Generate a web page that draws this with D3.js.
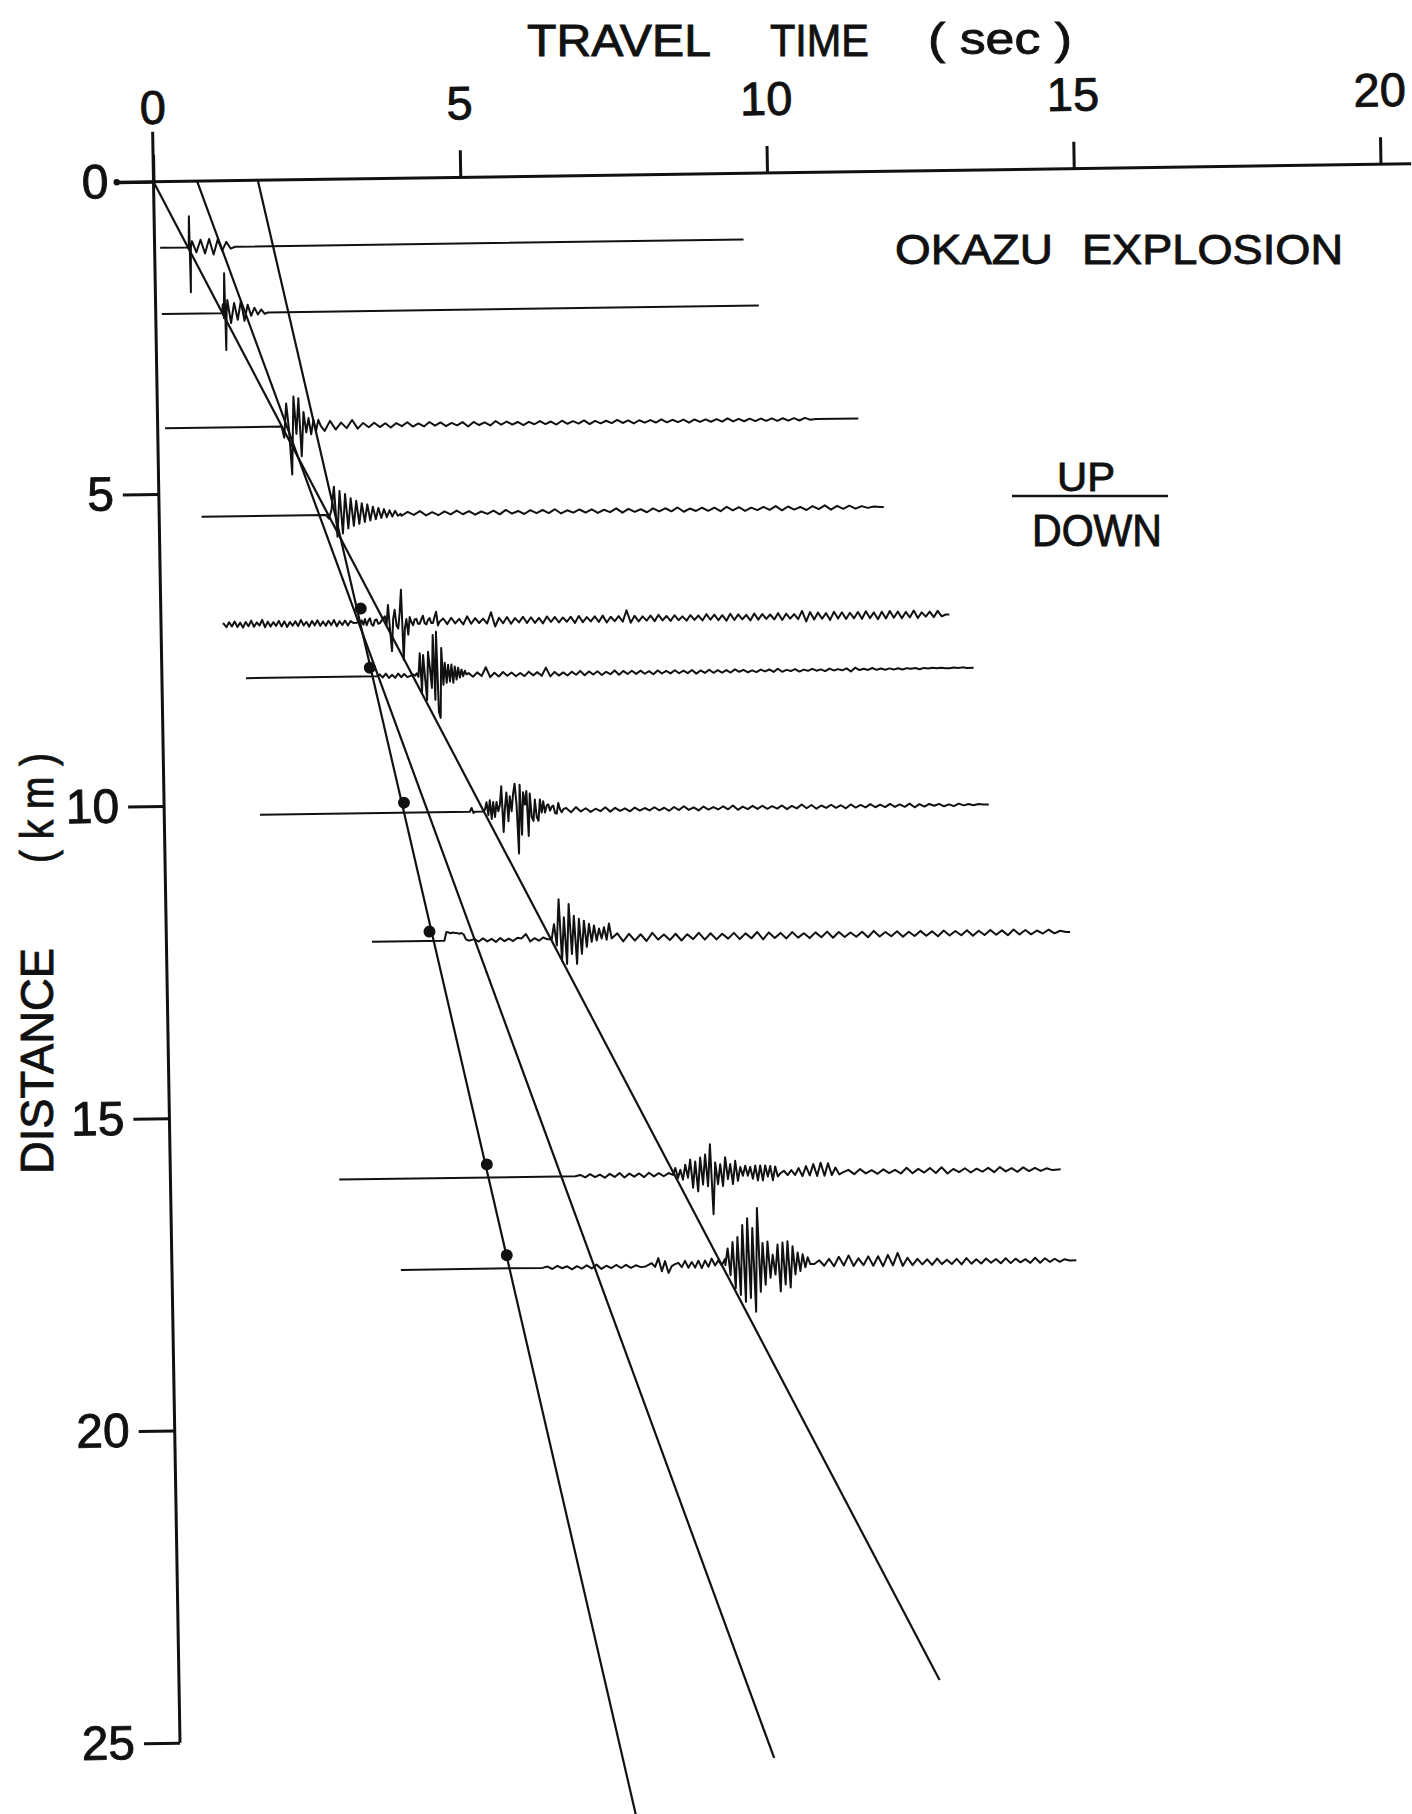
<!DOCTYPE html>
<html>
<head>
<meta charset="utf-8">
<script src="https://cdn.jsdelivr.net/npm/d3@7"></script>
<style>
  html, body { margin: 0; padding: 0; background: #ffffff; }
  svg { display: block; }
  text { font-family: "Liberation Sans", Arial, sans-serif; fill: #111; stroke: #111; stroke-width: 0.9px; }
</style>
</head>
<body>
<svg id="chart" width="1412" height="1814"></svg>
<script>
// ---- axes ----
const timeTicks = [0, 5, 10, 15, 20];          // travel time (sec)
const distTicks = [0, 5, 10, 15, 20, 25];      // distance (km)

// ---- travel-time branches: t = intercept + d / velocity ----
const branchIntercept = [0, 0.71, 1.7];        // sec
const branchVelocity  = [1.95, 2.83, 4.6];     // km/s
const branchEndDist   = [24.17, 25.38, 26.3];  // km

// ---- stations ----
const stationDist = [1.06, 2.12, 3.95, 5.375, 7.11, 7.97, 10.16, 12.22, 16.02, 17.48];
const traceStart  = [0.09, 0.10, 0.12, 0.69, 1.02, 1.37, 1.56, 3.35, 2.75, 3.73];
const traceEnd    = [9.60, 9.83, 11.42, 11.81, 12.85, 13.23, 13.44, 14.73, 14.51, 14.74];

// ---- first-arrival picks (filled dots) ----
const pickTime = [3.26, 3.39, 3.91, 4.29, 5.16, 5.46];
const pickDist = [6.88, 7.83, 10.00, 12.07, 15.81, 17.27];

// amplitude counts are hundredths of a km of plot height, up positive
const AMP_UNIT = 0.01;

// each record: [start time, sample step, amplitudes]
const wave1 = [
  [0.555, 0.012, [0, 50, -72, 0]],
  [0.61, 0.07, [10, -8, 12, -10, 13, -12, 12, -6, 8, -3, 0]]
];
const wave2 = [
  [1.08, 0.015, [0, 14, -8, 64, -59, 0]],
  [1.17, 0.055, [21, -16, 16, -11, 19, -13, 13, -5, 8, -3, 5, -2, 0]]
];
const wave3 = [
  [2.02, 0.04, [0, -18, 37, -5, -77, 48, -12, 45, -48, 23, -10, 13, -13, 10, -8, 10, 0]],
  [2.72, 0.09, [-8, 8, -6, 5, -4, 9, -5, 4, -3, 4, -3, 3, -4, 3, -2, 4, -3, 2, -3, 4,
                -2, 3, -3, 2, -2, 3, -4, 3, -2, 2, -3, 4, -2, 3, -2, 2, -3, 2, -2, 3,
                -2, 2, -3, 3, -2, 2, -2, 3, -3, 2, -2, 2, -2, 3, -2, 2, -3, 2, -2, 2,
                -2, 3, -2, 2, -2, 2, -3, 2, -2, 2, -2, 2, -2, 3, -2, 2, -2, 2, -2, 2,
                -2, 2, -2, 2, -2, 2, -2, 2, -1, 0]]
];
const wave4 = [
  [2.72, 0.045, [0, -6, 8, 45, -35, 38, -30, 33, -22, 26, -18, 22, -15, 18, -12, 16, -10, 12, -8, 10, -6, 8, -5, 6, -4, 5, -3, 0]],
  [3.95, 0.1, [-3, 3, -2, 4, -3, 2, -3, 3, -2, 4, -2, 3, -3, 2, -2, 3, -3, 4, -2, 2,
               -3, 3, -2, 3, -2, 4, -3, 2, -2, 3, -2, 3, -3, 2, -2, 4, -3, 3, -2, 2,
               -3, 3, -2, 3, -2, 4, -3, 2, -2, 3, -2, 3, -3, 4, -2, 3, -3, 2, -2, 3,
               -2, 4, -3, 3, -2, 2, -3, 3, -2, 4, -3, 3, -2, 3, -2, 2, -1, 1, 0]]
];
const wave5 = [
  [1.02, 0.045, [2, -4, 4, -3, 5, -4, 3, -5, 4, -3, 6, -4, 3, -2, 7, -5, 4, -4, 3, -3, 5, -4, 4, -5,
                 3, -3, 4, -4, 6, -3, 3, -5, 4, -3, 5, -4, 3, -4, 4, -3, 5, -5, 3, -3, 4, -4, 3, 0]],
  [3.19, 0.027, [0, 3, -2, 4, -3, 6, -4, 3, 7, -3, -5, 4, 5, -2, -1, 3, 6, 10, -4, 28, -10, -46, 5, 20, -5,
                 -10, 15, 52, -60, -10, 5, -20, 8, 0, -5, 4, 5, -3, -3, 4, 10, -2, -4, 3, 6, -2, -2, 8, 16, -6, 0]],
  [4.6, 0.065, [5, -4, 6, -3, 4, -5, 8, -4, 5, -3, 4, -4, 14, -9, 5, -4, 6, -5, 4, -3, 6, -4,
                5, -4, 4, -5, 6, -3, 5, -4, 4, -3, 5, -5, 6, -4, 4, -3, 5, -4, 6, -5, 4, -3, 5,
                -4, 14, -6, 5, -4, 4, -3, 5, -4, 6, -3, 4, -4, 5, -3, 3, -4, 5, -3, 4, -4, 6, -3,
                5, -4, 4, -5, 6, -4, 5, -3, 4, -5, 6, -4, 5, -3, 4, -4, 6, -5, 5, -3, 4, -4, 9,
                -8, 7, -5, 6, -4, 5, -6, 7, -4, 6, -5, 5, -4, 6, -5, 7, -4, 5, -6, 6, -5, 7, -4,
                6, -5, 5, -4, 7, -5, 4, -3, 5, -4, 6, -3, 0]]
];
const wave6 = [
  [3.5, 0.05, [0, 3, -2, 4, -3, 2, -3, 4, -2, 3, -2, 0]],
  [4.10, 0.027, [2, 0, 4, -2, 36, -26, 33, -4, -39, 38, 12, -20, 65, -39, 70, -58, -68, 44, -15, 20,
                 -12, 17, -10, 17, -12, 14, -7, 12, -4, 9, -2, 7, 1]],
  [5.0, 0.07, [3, -3, 4, -2, 12, -4, 3, -3, 4, -2, 3, -3, 2, -3, 4, -2, 3, -3, 10, -4,
               3, -3, 2, -3, 3, -2, 4, -3, 3, -2, 3, -3, 2, -2, 4, -3, 3, -2, 3, -2,
               3, -2, 2, -3, 3, -2, 2, -2, 3, -2, 2, -2, 3, -3, 2, -2, 3, -2, 2, -2,
               2, -2, 3, -1, 2, -2, 1, -2, 2, -1, 2, -2, 3, -2, 1, -1, 2, -2, 1, -1,
               2, -1, 1, -2, 2, -1, 1, -1, 2, -3, 3, -1, 1, -1, 2, -1, 1, -1, 1, -1,
               1, -1, 1, 0, 1, -1, 1, 0, 1, 0, 1, 0, 0, 1, 0, 1, 0]]
];
const wave7 = [
  [4.98, 0.03, [0, 6, -2, 0]],
  [5.20, 0.0272, [0, 3, 15, -6, 18, -12, 15, -9, 15, 0, 10, 40, -33, 5, 30, -16, 24, 0, 27, 44,
                  10, -68, 42, -38, 30, 10, 32, -40, 28, -10, -16, 18, -10, -16, 18, -3, 15, -3, 8, 10,
                  0, 6, 8, -4, -5, 12, 2, -3, 2]],
  [6.55, 0.08, [4, -3, 5, -2, 3, -3, 2, -2, 4, -3, 3, -2, 2, -3, 3, -2, 2, -2, 3, -2,
                2, -3, 3, -2, 4, -2, 2, -3, 3, -2, 2, -2, 3, -2, 4, -3, 2, -2, 3, -2,
                3, -2, 2, -2, 3, -3, 2, -2, 4, -2, 3, -3, 2, -2, 3, -2, 2, -3, 3, -2,
                2, -2, 3, -2, 2, -2, 3, -2, 2, -2, 3, -3, 2, -2, 2, -1, 2, -2, 1, -2, 2, -1, 1, -1, 1, 0]]
];
const wave8 = [
  [4.53, 0.035, [0, 14, 13, 12, 13, 12, 12, 11, 12, 10, 2, 0]],
  [4.95, 0.07, [0, 2, -2, 3, -2, 2, -3, 3, -2, 2, -2, 3, 2, 9, -3, 2, -2, 3, 0]],
  [6.28, 0.0407, [0, 24, -10, 64, -35, 35, -40, 56, -24, 37, -40, 32, -24, 29, -13, 24, -5, 21, -3, 16,
                  0, 18, -2, 24, 0]],
  [7.35, 0.095, [8, -5, 7, -4, 6, -5, 8, -3, 5, -4, 6, -5, 5, -3, 7, -4, 6, -4, 5, -3,
                 6, -4, 5, -3, 7, -5, 6, -3, 5, -4, 6, -3, 4, -4, 5, -3, 6, -4, 5, -3,
                 4, -3, 5, -4, 6, -3, 4, -3, 5, -4, 4, -3, 5, -3, 4, -4, 5, -3, 4, -3,
                 5, -4, 4, -3, 5, -3, 4, -4, 5, -3, 4, -3, 3, -2, 4, -2, 2, 0]]
];
const wave9 = [
  [6.6, 0.08, [0, 2, -2, 3, -2, 2, -3, 3, -2, 4, -3, 3, -2, 3, -3, 4, -2, 3, -2, 3]],
  [8.19, 0.0407, [0, 11, -5, 8, -8, 16, -5, 24, -21, 21, -27, 27, -16, 32, -19, 48, -64, 19, -16, 16,
                  -19, 27, -8, 16, -16, 21, -11, 11, -3, 13, -3, 11, -8, 13, -11, 13, -11, 13, -5, 12,
                  -11, 11, -5, 0]],
  [10.0, 0.06, [4, -3, 5, -3, 8, -5, 11, -4, 14, -5, 16, -5, 15, -4, 8, -3, 0]],
  [11.05, 0.095, [4, -3, 5, -2, 3, -3, 4, -2, 3, -3, 6, -3, 4, -2, 5, -3, 6, -4, 3, -2,
                  4, -3, 3, -2, 4, -3, 5, -2, 3, -3, 4, -2, 3, -2, 2, -1, 0]]
];
const wave10 = [
  [6.04, 0.08, [0, 2, -2, 3, -1, 2, -3, 2, -2, 3, -2, 4, -3, 2, -2, 3, -2, 3, -2, 2, -1, 0]],
  [7.82, 0.0543, [5, -1, 13, -8, 8, -11, 0, 3, 5, -2, 8, -3, 6, -3, 8, -4, 8, -2, 11, 0, 8, 0, 10]],
  [9.02, 0.0407, [0, 27, -16, 37, -37, 45, -48, 64, -59, 75, -53, 59, -75, 91, -43, 35, -32, 37, -21, 16,
                  -16, 32, -43, 35, -32, 37, -37, 29, -16, 19, -11, 16, -5, 11, 0]],
  [10.47, 0.08, [0, 6, -3, 8, -4, 11, -3, 13, -4, 8, -3, 11, -4, 11, -5, 13, -4, 16, -5, 8,
                 -4, 6, -3, 5, -4, 6, -3, 4, -3, 5, -4, 6, -3, 4, -3, 5, -2, 4, -3, 5,
                 -3, 4, -2, 3, -3, 5, -3, 4, -2, 3, -2, 2, 0]]
];
const waves = [wave1, wave2, wave3, wave4, wave5, wave6, wave7, wave8, wave9, wave10];

// ---- drawing ----
const svg = d3.select("#chart");
const ink = "#111";

const x = d3.scaleLinear().domain([0, 20]).range([0, 1227.1]);
const y = d3.scaleLinear().domain([0, 25]).range([0, 1561.2]);

// plotting frame, origin at (0 s, 0 km); the sheet is drawn slightly askew
const frame = svg.append("g")
  .attr("transform", "matrix(0.9999,-0.01418,0.01698,0.99986,153.5,181.7)");

// seismograms
const line = d3.line();
function tracePoints(i) {
  const d = stationDist[i];
  const pts = [[traceStart[i], 0]];
  waves[i].forEach(([t0, dt, amps]) => {
    amps.forEach((a, k) => pts.push([t0 + k * dt, a]));
  });
  pts.push([traceEnd[i], 0]);
  return pts.map(([t, a]) => [x(t), y(d - a * AMP_UNIT)]);
}
frame.append("g").selectAll("path")
  .data(stationDist.map((_, i) => i))
  .join("path")
  .attr("d", i => line(tracePoints(i)))
  .attr("fill", "none")
  .attr("stroke", ink)
  .attr("stroke-width", 2)
  .attr("stroke-linejoin", "round");

// travel-time branches
frame.append("g").selectAll("line")
  .data(branchIntercept.map((t0, i) => ({ t0, v: branchVelocity[i], dEnd: branchEndDist[i] })))
  .join("line")
  .attr("x1", b => x(b.t0)).attr("y1", y(0))
  .attr("x2", b => x(b.t0 + b.dEnd / b.v)).attr("y2", b => y(b.dEnd))
  .attr("stroke", ink).attr("stroke-width", 2.2);

// picks
frame.append("g").selectAll("circle")
  .data(pickTime.map((t, i) => [t, pickDist[i]]))
  .join("circle")
  .attr("cx", p => x(p[0])).attr("cy", p => y(p[1]))
  .attr("r", 6).attr("fill", ink);

// time axis (top)
const gx = frame.append("g").call(
  d3.axisTop(x).tickValues(timeTicks).tickSize(27).tickPadding(31).tickSizeOuter(0)
);
gx.select(".domain").remove();
gx.attr("font-family", null).attr("font-size", null);
gx.selectAll(".tick line").attr("stroke", ink).attr("stroke-width", 3);
gx.selectAll(".tick text").attr("font-size", 47).attr("fill", ink);

// distance axis (left)
const gy = frame.append("g").call(
  d3.axisLeft(y).tickValues(distTicks).tickSize(36).tickPadding(9).tickSizeOuter(0)
);
gy.select(".domain").remove();
gy.attr("font-family", null).attr("font-size", null);
gy.selectAll(".tick line").attr("stroke", ink).attr("stroke-width", 3);
gy.selectAll(".tick text").attr("font-size", 48).attr("fill", ink);

// axis lines
frame.append("line")
  .attr("x1", x(-0.6)).attr("y1", y(0)).attr("x2", x(20.5)).attr("y2", y(0))
  .attr("stroke", ink).attr("stroke-width", 3);
frame.append("circle").attr("cx", x(-0.6)).attr("cy", y(0)).attr("r", 3.2).attr("fill", ink);
frame.append("line")
  .attr("x1", x(0)).attr("y1", y(-0.8)).attr("x2", x(0)).attr("y2", y(25))
  .attr("stroke", ink).attr("stroke-width", 3);

// titles and annotations
const labels = [
  { text: "TRAVEL", x: 527, y: 56, size: 45, len: 184 },
  { text: "TIME", x: 770, y: 56, size: 45, len: 99 },
  { text: "( sec )", x: 928, y: 54, size: 45, len: 144 },
  { text: "OKAZU", x: 895, y: 264, size: 42, len: 158 },
  { text: "EXPLOSION", x: 1082, y: 264, size: 42, len: 261 },
  { text: "UP", x: 1057, y: 491, size: 41, len: 58 },
  { text: "DOWN", x: 1032, y: 546, size: 44, len: 130 }
];
svg.append("g").selectAll("text")
  .data(labels)
  .join("text")
  .attr("x", l => l.x).attr("y", l => l.y)
  .attr("font-size", l => l.size)
  .attr("textLength", l => l.len)
  .attr("lengthAdjust", "spacingAndGlyphs")
  .text(l => l.text);

svg.append("line")
  .attr("x1", 1012).attr("y1", 496).attr("x2", 1168).attr("y2", 496)
  .attr("stroke", ink).attr("stroke-width", 2.5);

const yTitle = svg.append("g").attr("transform", "translate(53,1174) rotate(-90)");
yTitle.append("text").attr("x", 0).attr("y", 0).attr("font-size", 47)
  .attr("textLength", 226).attr("lengthAdjust", "spacingAndGlyphs").text("DISTANCE");
yTitle.append("text").attr("x", 311).attr("y", 0).attr("font-size", 47)
  .attr("textLength", 110).attr("lengthAdjust", "spacingAndGlyphs").text("( k m )");
</script>
</body>
</html>
